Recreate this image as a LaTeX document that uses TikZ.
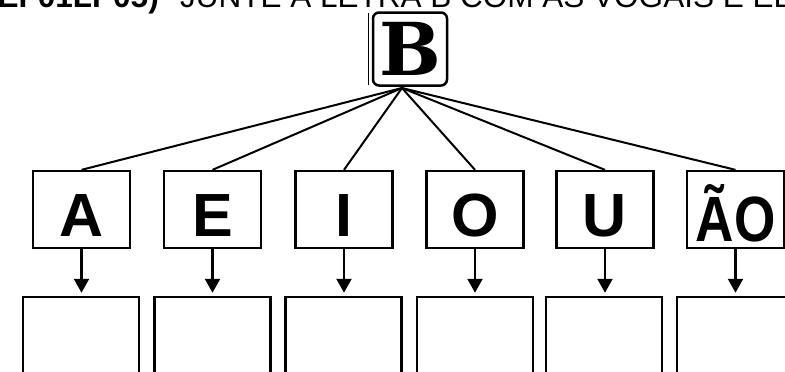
\documentclass[tikz,border=0pt]{standalone}
\usepackage{fontspec}
\usepackage{graphicx}
\setmainfont{Liberation Sans}
\newfontfamily\bfont{DejaVu Serif}
\usetikzlibrary{arrows.meta,calc}
\begin{document}
\begin{tikzpicture}[x=1pt,y=-1pt,
  vowel/.style={draw,line width=2.3pt,minimum width=97pt,minimum height=77pt,inner sep=0pt,
    text height=53pt,text depth=0pt,font=\fontsize{61}{61}\selectfont\bfseries},
  answer/.style={draw,line width=2.5pt,minimum width=116pt,minimum height=140pt,inner sep=0pt},
  link/.style={line width=2pt},
  down/.style={line width=2.3pt,shorten >=3pt,-{Triangle[width=15pt,length=14pt]}},
  header/.style={anchor=base west,inner sep=0pt,font=\fontsize{31.5}{32}\selectfont}]
\useasboundingbox (0,0) rectangle (785,372);
\fill[white] (0,0) rectangle (785,372);

% header (cut off at the top)
\node[header,font=\fontsize{31.5}{32}\selectfont\bfseries] (code) at (-13,7.5) {(EF01LP05)};
\node[header] (title) at (180,7.5) {JUNTE A LETRA B COM AS VOGAIS E EL};

% B box
\node[draw,line width=2.5pt,rounded corners=6pt,minimum width=74pt,minimum height=73pt,inner sep=0pt,
  text height=53pt,text depth=0pt,font=\bfont\bfseries\fontsize{73}{73}\selectfont] (b) at (410,49) {B};
\draw[line width=1.2pt] ($(b.north west)+(-3,2)$) -- ($(b.south west)+(-3,-2)$);
\coordinate (bf) at (402,88);

% vowel boxes
\node[vowel] (va) at (81.5,209.5) {A};
\node[vowel] (ve) at (212.5,209.5) {E};
\node[vowel] (vi) at (344,209.5) {I};
\node[vowel] (vo) at (475,209.5) {O};
\node[vowel] (vu) at (605,209.5) {U};
\node[vowel,text height=63pt,font=\fontsize{64}{64}\selectfont\bfseries] (vao) at (735.5,209.5) {\scalebox{0.83}[1]{ÃO}};

% answer boxes
\node[answer] (ra) at (81,367) {};
\node[answer] (re) at (212.5,367) {};
\node[answer] (ri) at (343.5,367) {};
\node[answer] (ro) at (475,367) {};
\node[answer] (ru) at (604,367) {};
\node[answer] (rao) at (735,367) {};

% links from B
\foreach \v in {va,ve,vi,vo,vu,vao} \draw[link] (bf) -- (\v.north);

% arrows
\foreach \v/\r in {va/ra,ve/re,vi/ri,vo/ro,vu/ru,vao/rao}
  \draw[down] (\v.south) -- (\v.south |- \r.north);
\end{tikzpicture}
\end{document}
